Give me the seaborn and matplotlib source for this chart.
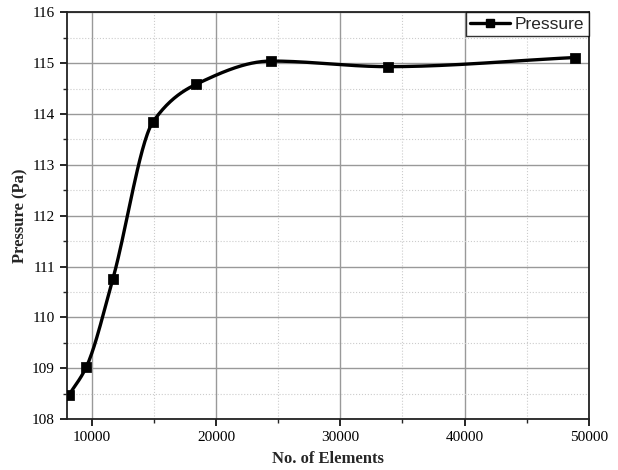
import numpy as np
import pandas as pd
import matplotlib
matplotlib.use("Agg")
import matplotlib.pyplot as plt
import seaborn as sns
from matplotlib.ticker import MultipleLocator
from matplotlib.lines import Line2D

# values
elements = [8160, 9580, 11700, 14950, 18380, 24460, 33820, 48890]
pressure = [108.47, 109.03, 110.75, 113.85, 114.58, 115.04, 114.93, 115.11]

df = pd.DataFrame({"Elements": elements, "Pressure": pressure})


def smooth_line(x, y, n=400):
    # monotone cubic (Fritsch-Carlson), only used to draw the smoothed line
    x = np.asarray(x, float)
    y = np.asarray(y, float)
    h = np.diff(x)
    delta = np.diff(y) / h
    m = np.zeros_like(y)
    m[0], m[-1] = delta[0], delta[-1]
    for i in range(1, len(x) - 1):
        if delta[i - 1] * delta[i] <= 0:
            m[i] = 0
        else:
            w1 = 2 * h[i] + h[i - 1]
            w2 = h[i] + 2 * h[i - 1]
            m[i] = (w1 + w2) / (w1 / delta[i - 1] + w2 / delta[i])
    xs = np.linspace(x[0], x[-1], n)
    idx = np.clip(np.searchsorted(x, xs) - 1, 0, len(x) - 2)
    t = (xs - x[idx]) / h[idx]
    h00 = 2 * t ** 3 - 3 * t ** 2 + 1
    h10 = t ** 3 - 2 * t ** 2 + t
    h01 = -2 * t ** 3 + 3 * t ** 2
    h11 = t ** 3 - t ** 2
    ys = (h00 * y[idx] + h10 * h[idx] * m[idx]
          + h01 * y[idx + 1] + h11 * h[idx] * m[idx + 1])
    return xs, ys


sns.set_style("white")
plt.rcParams["font.family"] = ["Liberation Serif", "DejaVu Serif"]

fig, ax = plt.subplots(figsize=(6.18, 4.70), dpi=100)
fig.subplots_adjust(left=0.108, right=0.953, top=0.974, bottom=0.108)

xs, ys = smooth_line(df["Elements"], df["Pressure"])
sns.lineplot(x=xs, y=ys, ax=ax, color="black", linewidth=2.4, zorder=3)
sns.scatterplot(data=df, x="Elements", y="Pressure", ax=ax, marker="s",
                color="black", s=45, edgecolor="black", zorder=4)

ax.set_xlim(8000, 50000)
ax.set_ylim(108, 116)
ax.xaxis.set_major_locator(MultipleLocator(10000))
ax.xaxis.set_minor_locator(MultipleLocator(5000))
ax.yaxis.set_major_locator(MultipleLocator(1))
ax.yaxis.set_minor_locator(MultipleLocator(0.5))

ax.grid(which="major", color="#999999", linewidth=1.0, linestyle="-")
ax.grid(which="minor", color="#cccccc", linewidth=0.8, linestyle=":")
ax.set_axisbelow(True)

for s in ax.spines.values():
    s.set_color("#222222")
    s.set_linewidth(1.3)

ax.tick_params(which="major", direction="out", length=5, width=1.2,
               labelsize=11, bottom=True, left=True, colors="black")
ax.tick_params(which="minor", direction="out", length=3, width=1.0,
               bottom=True, left=True)

ax.set_xlabel("No. of Elements", fontsize=12, fontweight="bold", labelpad=5)
ax.set_ylabel("Pressure (Pa)", fontsize=12, fontweight="bold", labelpad=3)

handle = Line2D([], [], color="black", linewidth=2.4, marker="s",
                markersize=6)
leg = ax.legend([handle], ["Pressure"], loc="upper right",
                prop={"family": "Liberation Sans", "size": 12.5},
                frameon=True, fancybox=False, borderaxespad=0.0,
                handlelength=2.3, handletextpad=0.3, borderpad=0.25)
leg.get_frame().set_edgecolor("black")
leg.get_frame().set_linewidth(1.0)

fig.savefig("out.png", dpi=100)
